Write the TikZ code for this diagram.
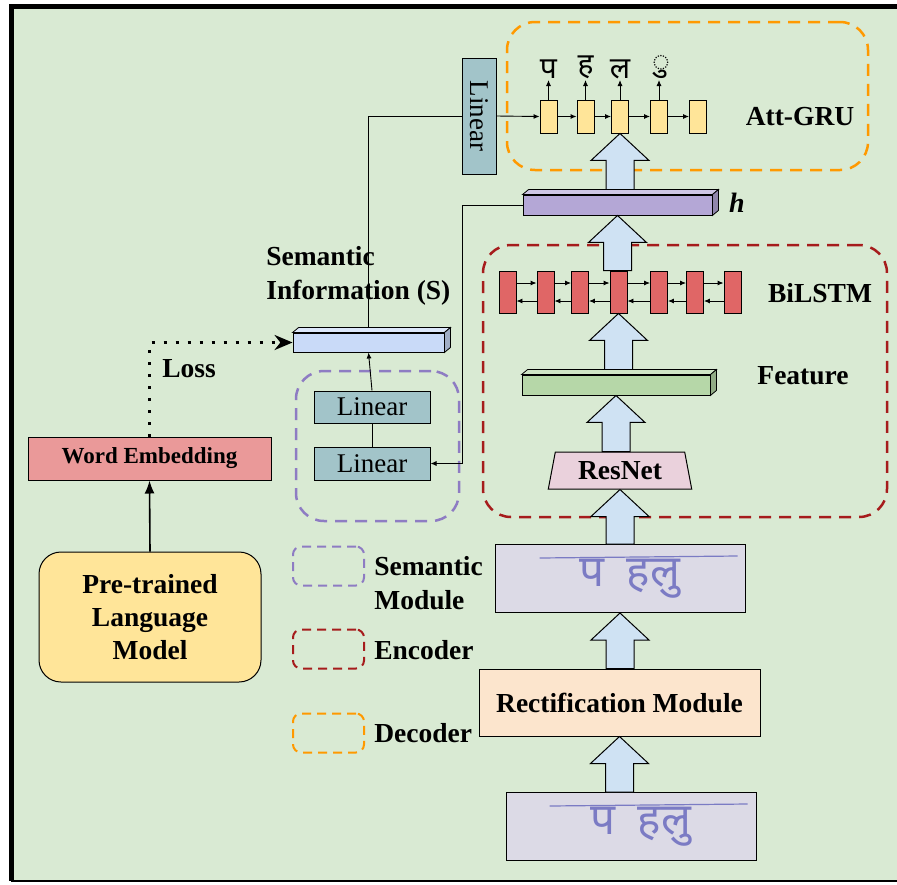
\documentclass[tikz,border=0pt]{standalone}
\usepackage{fontspec}
\setmainfont{Liberation Serif}
\newfontfamily\deva[Script=Devanagari]{Noto Sans}
\usetikzlibrary{arrows,arrows.meta,positioning,calc,shapes.geometric}

\definecolor{bggreen}{HTML}{D9EAD3}
\definecolor{gruyellow}{HTML}{FFE599}
\definecolor{lineteal}{HTML}{A2C4C9}
\definecolor{hpurple}{HTML}{B4A7D6}
\definecolor{lstmred}{HTML}{E06666}
\definecolor{featgreen}{HTML}{B6D7A8}
\definecolor{respink}{HTML}{EAD1DC}
\definecolor{imglav}{HTML}{DCDAE6}
\definecolor{rectpeach}{HTML}{FCE5CD}
\definecolor{wepink}{HTML}{EA9999}
\definecolor{semblue}{HTML}{C9DAF8}
\definecolor{arrblue}{HTML}{CFE2F3}
\definecolor{decorange}{HTML}{FF9900}
\definecolor{encred}{HTML}{A61C1C}
\definecolor{sempurple}{HTML}{8E7CC3}
\definecolor{ink}{HTML}{7B7BC4}

% top and side faces of a flat bar
\newcommand{\slabfaces}[2]{%
  \filldraw[fill=#2!65!white, line width=0.8pt] (#1.north west) -- ++(6,-5) -- ($(#1.north east)+(6,-5)$) -- (#1.north east) -- cycle;
  \filldraw[fill=#2!80!black, line width=0.8pt] (#1.north east) -- ++(6,-5) -- ($(#1.south east)+(6,-5)$) -- (#1.south east) -- cycle;}
% wide hollow arrow from one node up to the next
\newcommand{\blockup}[2]{%
  \filldraw[fill=arrblue, line width=1pt] let \p1=(#1.north), \p2=(#2.south) in
    (\x2-14pt,\y1) -- (\x2-14pt,\y2-27pt) -- (\x2-29pt,\y2-27pt) -- (\x2,\y2)
    -- (\x2+29pt,\y2-27pt) -- (\x2+14pt,\y2-27pt) -- (\x2+14pt,\y1) -- cycle;}

\begin{document}
\begin{tikzpicture}[x=1pt,y=-1pt,semithick,
    small/.style={-{Latex[length=6pt,width=5pt]}, line width=0.9pt},
    lbl/.style={font=\fontsize{27.5}{34}\selectfont\bfseries, inner sep=0pt},
    cell/.style={draw, line width=0.9pt, inner sep=0pt, minimum width=17pt},
    gru/.style={cell, fill=gruyellow, minimum height=33pt},
    lstm/.style={cell, fill=lstmred, minimum height=42pt},
    slab/.style={draw, line width=0.9pt, inner sep=0pt},
    boxed/.style={draw, line width=1pt, inner sep=0pt, font=\fontsize{27}{32}\selectfont},
    imgbox/.style={boxed, fill=imglav, minimum width=250pt, minimum height=68pt},
    grp/.style={line width=2.5pt, dash pattern=on 12pt off 8pt, rounded corners=28pt, inner sep=0pt},
    legend/.style={grp, rounded corners=8pt, line width=2pt, dash pattern=on 9pt off 6pt, minimum width=71pt, minimum height=39pt},
    devchar/.style={font=\deva\fontsize{30}{30}\selectfont, anchor=south, inner sep=1pt}]
  \useasboundingbox (0,0) rectangle (897,884);
  \fill[white] (0,0) rectangle (897,884);
  \fill[bggreen] (11,6) rectangle (897,881);
  \draw[line width=5pt] (897,6) -- (11,6) -- (11,881);
  \draw[line width=2.5pt] (11,881) -- (897,881);

  % dashed groups
  \node[grp, draw=decorange, minimum width=361pt, minimum height=148pt] (decbox) at (687.5,96) {};
  \node[grp, draw=encred, minimum width=404pt, minimum height=272pt] (encbox) at (685,381) {};
  \node[grp, draw=sempurple, minimum width=163pt, minimum height=150pt] (sembox) at (377.5,446) {};

  % decoder
  \foreach \x [count=\i] in {548.5,585.5,620,659,698}
    \node[gru] (g\i) at (\x,116.5) {};
  \foreach \i/\j in {1/2,2/3,3/4,4/5}
    \draw[small] (g\i) -- (g\j);
  \node[devchar] (c1) at (548.5,80) {प};
  \node[devchar] (c2) at (585.5,80) {ह};
  \node[devchar] (c3) at (620,80) {ल};
  \node[devchar] (c4) at (661,80) {ु};
  \foreach \i in {1,...,4}
    \draw[small] (g\i.north) -- (g\i.north |- c\i.south);
  \node[boxed, fill=lineteal, minimum width=34pt, minimum height=116pt] (linv) at (479,116) {\rotatebox{-90}{Linear}};
  \draw[small] (linv.east) -- (g1.west);
  \node[lbl] (attgru) at (800,117) {Att-GRU};

  % encoder
  \node[slab, fill=hpurple, minimum width=189pt, minimum height=20pt] (h) at (617.5,205) {};
  \node[lbl, font=\fontsize{28}{34}\selectfont\bfseries\itshape] (hlbl) at (737,203) {h};
  \foreach \x [count=\i] in {507.5,545.5,580,618.5,659,695,732.5}
    \node[lstm] (b\i) at (\x,292) {};
  \foreach \i/\j in {1/2,2/3,3/4,4/5,5/6,6/7}{
    \draw[small] ([yshift=9pt]b\i.east) -- ([yshift=9pt]b\j.west);
    \draw[small] ([yshift=-9pt]b\j.west) -- ([yshift=-9pt]b\i.east);}
  \node[lbl] (bilstm) at (820,293) {BiLSTM};
  \node[slab, fill=featgreen, minimum width=188pt, minimum height=20pt] (feat) at (616,385) {};
  \node[lbl] (featlbl) at (803,376) {Feature};
  \node[boxed, trapezium, trapezium left angle=76, trapezium right angle=76, trapezium stretches=true,
        fill=respink, minimum width=144pt, minimum height=37pt, font=\fontsize{27.5}{32}\selectfont\bfseries] (resnet) at (620,470.5) {ResNet};

  % images and rectification
  \node[imgbox] (img2) at (620,578.5) {\deva\color{ink}\fontsize{44}{44}\selectfont\hspace*{20pt}प\hspace{22pt}हलु};
  \node[boxed, fill=rectpeach, minimum width=281pt, minimum height=67pt, font=\fontsize{27.5}{32}\selectfont\bfseries] (rect) at (619.5,702.5) {Rectification Module};
  \node[imgbox] (img1) at (631,826.5) {\deva\color{ink}\fontsize{44}{44}\selectfont\hspace*{20pt}प\hspace{22pt}हलु};
  \draw[ink, line width=1.2pt] ($(img2.north west)+(45,14)$) -- ($(img2.north east)+(-8,12)$);
  \draw[ink, line width=1.2pt] ($(img1.north west)+(44,14)$) -- ($(img1.north east)+(-9,12)$);

  % semantic module
  \node[slab, fill=semblue, minimum width=151pt, minimum height=19pt] (sem) at (368.5,342.5) {};
  \node[lbl, anchor=west, align=left] (semlbl) at (266,275.5) {Semantic\\Information (S)};
  \node[boxed, fill=lineteal, minimum width=116pt, minimum height=32pt] (lin1) at (372,407) {Linear};
  \node[boxed, fill=lineteal, minimum width=116pt, minimum height=33pt] (lin2) at (372,463.5) {Linear};
  \draw[line width=0.9pt] (lin2.north) -- (lin1.south);
  \draw[small] (lin1.north) -- (sem.south);
  \draw[small] (h.west) -- ++(-60,0) |- (lin2.east);
  \draw[line width=0.9pt] (sem.north) |- (linv.west);

  % language model side
  \node[boxed, fill=wepink, minimum width=243pt, minimum height=43pt, font=\fontsize{23}{28}\selectfont\bfseries] (we) at (149.5,458.5) {Word Embedding};
  \node[boxed, fill=gruyellow, rounded corners=22pt, minimum width=222pt, minimum height=130pt,
        align=center, font=\fontsize{27.5}{33}\selectfont\bfseries] (plm) at (150,617) {Pre-trained\\Language\\Model};
  \draw[-{Latex[length=13pt,width=10pt]}, line width=1.6pt] (plm.north) -- (we.south);
  \draw[-{Stealth[length=18pt,width=15pt]}, line width=3pt, dash pattern=on 3pt off 9pt] (we.north) |- (sem.west);
  \node[lbl, anchor=west] (loss) at (162,369) {Loss};

  % big arrows
  \blockup{img1}{rect}
  \blockup{rect}{img2}
  \blockup{img2}{resnet}
  \blockup{resnet}{feat}
  \blockup{feat}{b4}
  \blockup{b4}{h}
  \blockup{h}{g3}
  \slabfaces{h}{hpurple}
  \slabfaces{feat}{featgreen}
  \slabfaces{sem}{semblue}

  % legend
  \node[legend, draw=sempurple] (legsem) at (328.5,566) {};
  \node[legend, draw=encred] (legenc) at (328.5,649) {};
  \node[legend, draw=decorange] (legdec) at (328.5,733) {};
  \node[lbl, anchor=west, align=left] (legsemlbl) at (374,583) {Semantic\\Module};
  \node[lbl, anchor=west] (legenclbl) at (374,650) {Encoder};
  \node[lbl, anchor=west] (legdeclbl) at (374,733) {Decoder};
\end{tikzpicture}
\end{document}
